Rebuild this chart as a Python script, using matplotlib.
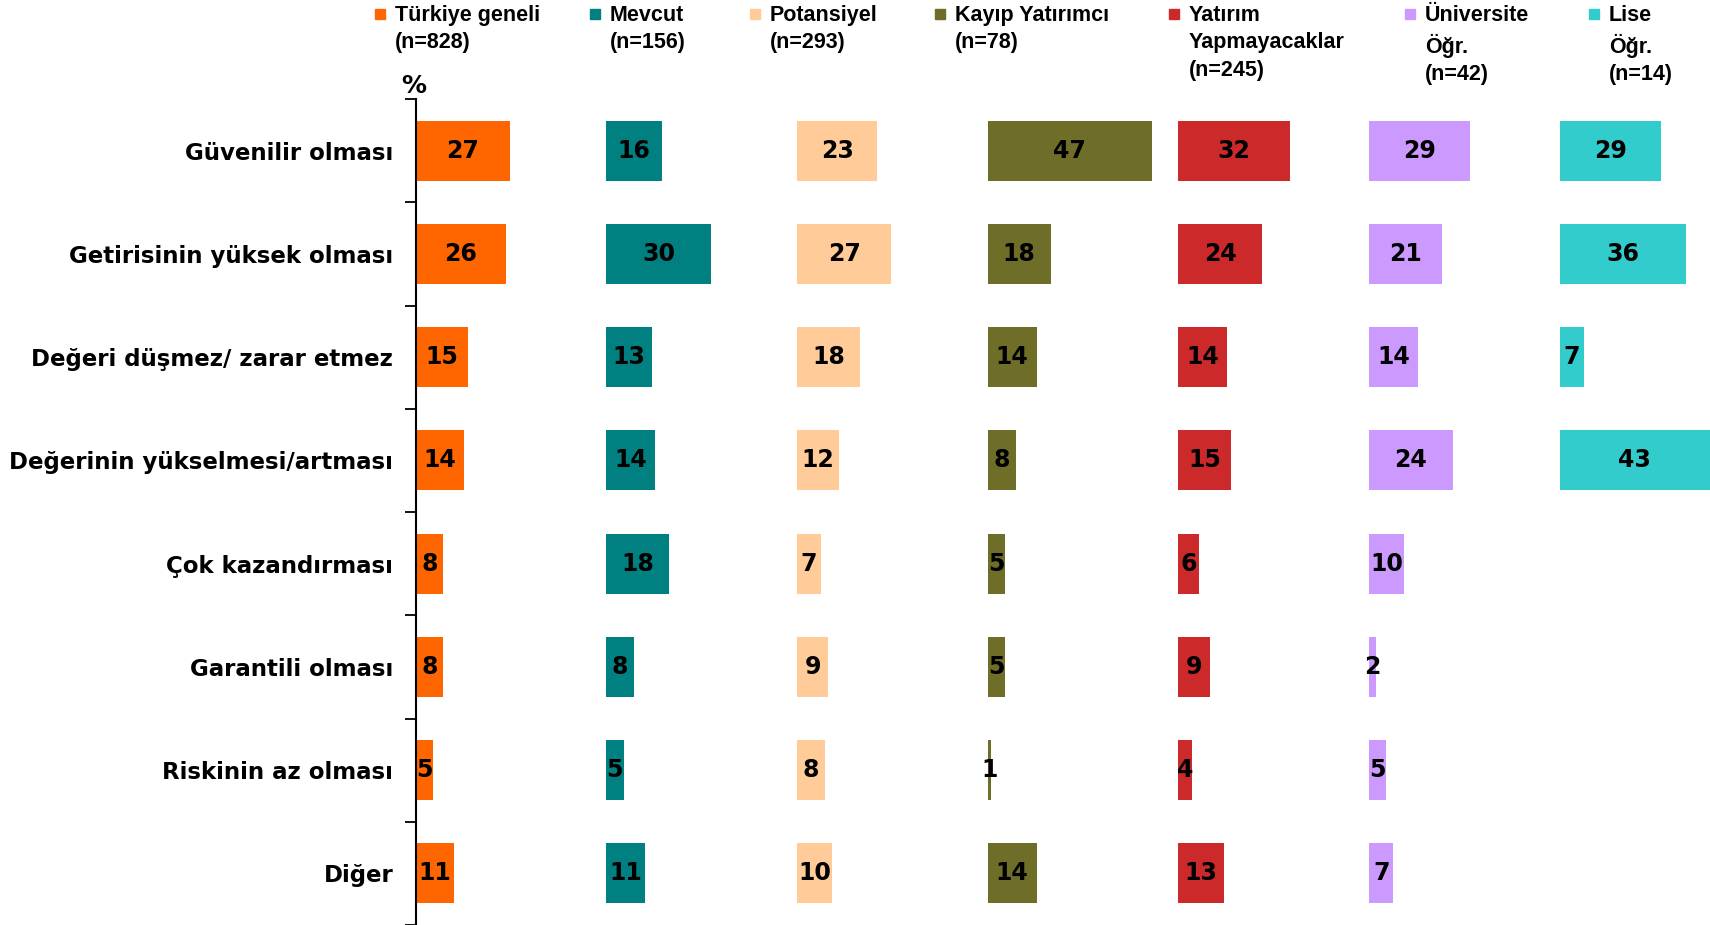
import numpy as np
import matplotlib.pyplot as plt
from matplotlib.patches import Rectangle

# ========== 数据 ==========
categories = ['Güvenilir olması', 'Getirisinin yüksek olması', 'Değeri düşmez/ zarar etmez',
              'Değerinin yükselmesi/artması', 'Çok kazandırması', 'Garantili olması',
              'Riskinin az olması', 'Diğer']
series_names = ['Türkiye geneli\n(n=828)', 'Mevcut\n(n=156)', 'Potansiyel\n(n=293)',
                'Kayıp Yatırımcı\n(n=78)', 'Yatırım\nYapmayacaklar\n(n=245)',
                'Üniversite\nÖğr.\n(n=42)', 'Lise\nÖğr.\n(n=14)']
turkiye = [27, 26, 15, 14, 8, 8, 5, 11]
mevcut = [16, 30, 13, 14, 18, 8, 5, 11]
potansiyel = [23, 27, 18, 12, 7, 9, 8, 10]
kayip = [47, 18, 14, 8, 5, 5, 1, 14]
yapmayacak = [32, 24, 14, 15, 6, 9, 4, 13]
universite = [29, 21, 14, 24, 10, 2, 5, 7]
lise = [29, 36, 7, 43, None, None, None, None]

series = [turkiye, mevcut, potansiyel, kayip, yapmayacak, universite, lise]
colors = ['#FF6600', '#008080', '#FFCC99', '#6E6E28', '#CC2A2A', '#CC99FF', '#33CCCC']

# ========== 布局 ==========
group_step = 54.5
bar_h = 0.58
font_main = ['DejaVu Sans']
font_leg = ['Liberation Sans Narrow', 'Liberation Sans', 'DejaVu Sans']

fig = plt.figure(figsize=(17.1, 9.25), dpi=100)
ax = fig.add_axes([415.5 / 1710, 0.0, 1 - 415.5 / 1710, 1 - 99 / 925])

y = np.arange(len(categories))
for i, (vals, col) in enumerate(zip(series, colors)):
    off = i * group_step
    for yi, v in zip(y, vals):
        if v is None:
            continue
        ax.barh(yi, v, left=off, height=bar_h, color=col, edgecolor='none')
        ax.text(off + v / 2, yi, str(v), ha='center', va='center',
                fontsize=17, fontweight='bold', family=font_main, color='black')

ax.set_xlim(0, 6 * group_step + 43)
ax.set_ylim(len(categories) - 0.5, -0.5)

for s in ['top', 'right', 'bottom']:
    ax.spines[s].set_visible(False)
ax.spines['left'].set_linewidth(1.5)
ax.set_xticks([])

ax.set_yticks(y)
ax.set_yticklabels(categories, fontsize=16.5, fontweight='bold', family=font_main)
ax.tick_params(axis='y', which='major', length=0, pad=16)
ax.set_yticks(np.arange(-0.5, len(categories), 1.0), minor=True)
ax.tick_params(axis='y', which='minor', length=8, width=1.3, direction='out')

fig.text(401 / 1710, 1 - 86 / 925, '%', fontsize=18, fontweight='bold',
         family=font_main, va='center')

# ========== 图例 ==========
leg_x = [375, 590, 750, 935, 1169, 1405, 1589]
for name, col, lx in zip(series_names, colors, leg_x):
    fig.patches.append(Rectangle((lx / 1710, 1 - 19 / 925), 10 / 1710, 10 / 925,
                                 transform=fig.transFigure, color=col))
    fig.text((lx + 20) / 1710, 1 - 5 / 925, name, fontsize=15.5, fontweight='bold',
             family=font_leg, va='top', ha='left', linespacing=1.4)

plt.savefig('out.png', dpi=100)
